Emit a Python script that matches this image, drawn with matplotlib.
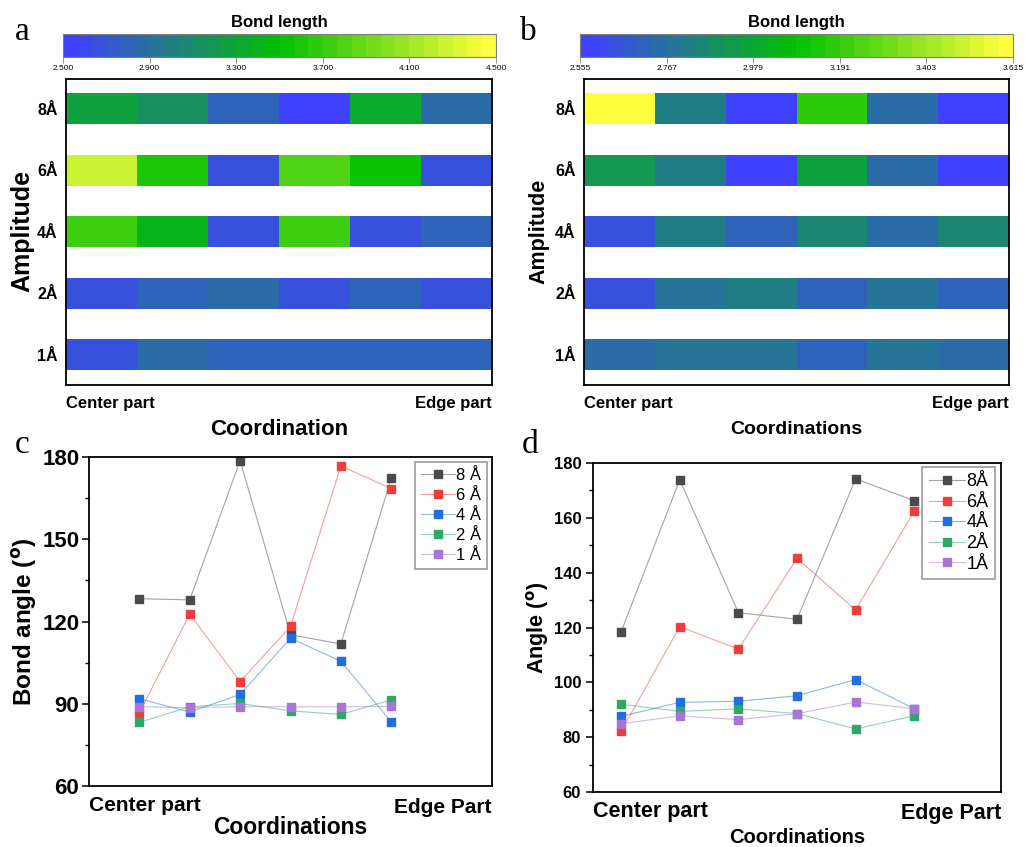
import numpy as np
import matplotlib
matplotlib.use("Agg")
import matplotlib.pyplot as plt
from matplotlib.colors import LinearSegmentedColormap, ListedColormap, Normalize
from matplotlib.cm import ScalarMappable
from matplotlib.ticker import MultipleLocator

plt.rcParams['font.family'] = ['Liberation Sans', 'DejaVu Sans']

# ---------------- data ----------------
amplitudes = ['1Å', '2Å', '4Å', '6Å', '8Å']          # bottom -> top
# panel a bond lengths (rows follow amplitudes order, 6 coordinates center->edge)
bond_a_1 = [2.68, 2.87, 2.78, 2.78, 2.78, 2.78]
bond_a_2 = [2.68, 2.78, 2.87, 2.68, 2.80, 2.68]
bond_a_4 = [3.75, 3.38, 2.68, 3.75, 2.68, 2.78]
bond_a_6 = [4.30, 3.61, 2.65, 3.81, 3.53, 2.65]
bond_a_8 = [3.25, 3.12, 2.78, 2.50, 3.31, 2.84]
# panel b bond lengths
bond_b_1 = [2.745, 2.790, 2.790, 2.703, 2.790, 2.735]
bond_b_2 = [2.635, 2.790, 2.836, 2.703, 2.790, 2.703]
bond_b_4 = [2.635, 2.820, 2.703, 2.862, 2.735, 2.862]
bond_b_6 = [2.937, 2.820, 2.555, 2.968, 2.735, 2.555]
bond_b_8 = [3.615, 2.820, 2.555, 3.186, 2.735, 2.555]

cbar_a_ticks = [2.5, 2.9, 3.3, 3.7, 4.1, 4.5]
cbar_b_ticks = [2.555, 2.767, 2.979, 3.191, 3.403, 3.615]

coord = [1, 2, 3, 4, 5, 6]
# panel c bond angles
c_8 = [128.3, 127.9, 178.7, 115.2, 111.8, 172.3]
c_6 = [86.7, 122.7, 98.1, 118.2, 176.7, 168.5]
c_4 = [91.8, 87.0, 93.4, 113.9, 105.5, 83.4]
c_2 = [83.2, 88.9, 90.1, 87.4, 86.1, 91.4]
c_1 = [88.9, 88.6, 88.9, 88.9, 88.9, 89.0]
# panel d angles
d_8 = [118.4, 173.9, 125.4, 123.0, 174.2, 166.3]
d_6 = [82.1, 120.3, 112.1, 145.2, 126.4, 162.4]
d_4 = [87.6, 92.7, 93.1, 95.1, 101.0, 90.4]
d_2 = [92.0, 89.4, 90.3, 88.6, 83.0, 87.8]
d_1 = [84.9, 87.8, 86.4, 88.6, 92.8, 90.4]

series_colors = ['#4a4a4a', '#f03c3c', '#1f6fe0', '#2ea866', '#a874d8']

# ---------------- colormap ----------------
base = LinearSegmentedColormap.from_list(
    'bgy', [(0.0, (0.25, 0.25, 1.0)), (0.5, (0.0, 0.75, 0.0)), (1.0, (1.0, 1.0, 0.25))])
cmap = ListedColormap(base(np.linspace(0, 1, 30)))

W, H = 1025, 847
fig = plt.figure(figsize=(W / 100, H / 100), dpi=100)


def px_axes(x0, y0, x1, y1):
    return fig.add_axes([x0 / W, 1 - y1 / H, (x1 - x0) / W, (y1 - y0) / H])


def heat_panel(rect, cbrect, rows, ticks, vmin, vmax, xlabel, xlabel_size,
               ylab_x, ylab_size, title_x):
    ax = px_axes(*rect)
    norm = Normalize(vmin=vmin, vmax=vmax)
    xe = np.arange(7)
    for i, row in enumerate(rows):
        ax.pcolormesh(xe, [i - 0.25, i + 0.25], np.array([row]), cmap=cmap, norm=norm)
    ax.set_xlim(0, 6)
    ax.set_ylim(-0.49, 4.48)
    ax.set_xticks([])
    ax.set_yticks(range(len(amplitudes)))
    ax.set_yticklabels(amplitudes, fontsize=11.5, fontweight='bold')
    ax.tick_params(axis='y', length=0, pad=6)
    for s in ax.spines.values():
        s.set_linewidth(1.3)
    ax.text(0, -0.06, 'Center part', transform=ax.transAxes, ha='left', va='center',
            fontsize=12, fontweight='bold')
    ax.text(1, -0.06, 'Edge part', transform=ax.transAxes, ha='right', va='center',
            fontsize=12, fontweight='bold')
    ax.text(0.5, -0.145, xlabel, transform=ax.transAxes, ha='center', va='center',
            fontsize=xlabel_size, fontweight='bold')
    fig.text(ylab_x / W, 1 - 231 / H, 'Amplitude', rotation=90, ha='center', va='center',
             fontsize=ylab_size, fontweight='bold')
    cax = px_axes(*cbrect)
    cb = fig.colorbar(ScalarMappable(norm=norm, cmap=cmap), cax=cax, orientation='horizontal')
    cb.set_ticks(ticks)
    cb.set_ticklabels(['%.3f' % t for t in ticks])
    cb.outline.set_edgecolor('#7f7f7f')
    cb.outline.set_linewidth(0.8)
    cax.tick_params(labelsize=6, length=4, width=0.6, color='#7f7f7f', pad=2)
    cax.minorticks_off()
    fig.text(title_x / W, 1 - 22 / H, 'Bond length', ha='center', va='center',
             fontsize=12, fontweight='bold')
    return ax


heat_panel((66, 79, 492, 385), (63, 34, 496, 57),
           [bond_a_1, bond_a_2, bond_a_4, bond_a_6, bond_a_8], cbar_a_ticks, 2.5, 4.5,
           'Coordination', 16, 22, 18, 279)
heat_panel((584, 79, 1009, 385), (580, 34, 1013, 57),
           [bond_b_1, bond_b_2, bond_b_4, bond_b_6, bond_b_8], cbar_b_ticks, 2.555, 3.615,
           'Coordinations', 14, 539, 15.5, 796)


def line_panel(rect, series, labels, xlim, major, minor, ylabel, tick_size, tick_pad,
               cp_size, cp_y, xl_size, xl_y, yl_size, yl_x, leg_anchor, leg_size, leg_sp):
    ax = px_axes(*rect)
    for vals, col, lab in zip(series, series_colors, labels):
        rgba = matplotlib.colors.to_rgba(col, 0.5)
        ax.plot(coord, vals, color=rgba, lw=0.8, marker='s', markersize=5.5,
                markerfacecolor=col, markeredgecolor=col, label=lab)
    ax.set_xlim(*xlim)
    ax.set_ylim(60, 180)
    ax.set_xticks([])
    ax.yaxis.set_major_locator(MultipleLocator(major))
    ax.yaxis.set_minor_locator(MultipleLocator(minor))
    ax.tick_params(axis='y', which='major', length=5, width=1.1, labelsize=tick_size,
                   pad=tick_pad)
    ax.tick_params(axis='y', which='minor', length=3, width=1.0)
    for lab in ax.get_yticklabels():
        lab.set_fontweight('bold')
    for s in ax.spines.values():
        s.set_linewidth(1.3)
    ax.text(0, cp_y, 'Center part', transform=ax.transAxes, ha='left', va='center',
            fontsize=cp_size, fontweight='bold')
    ax.text(1, cp_y - 0.006, 'Edge Part', transform=ax.transAxes, ha='right', va='center',
            fontsize=cp_size, fontweight='bold')
    ax.text(0.5, xl_y, 'Coordinations', transform=ax.transAxes, ha='center', va='center',
            fontsize=xl_size, fontweight='bold')
    ax.text(yl_x, 0.5, ylabel, transform=ax.transAxes, rotation=90, ha='center',
            va='center', fontsize=yl_size, fontweight='bold')
    leg = ax.legend(loc='upper right', bbox_to_anchor=leg_anchor, fontsize=leg_size,
                    handlelength=2.0, handletextpad=0.1, labelspacing=leg_sp,
                    borderpad=0.35, borderaxespad=0, fancybox=False, framealpha=1,
                    edgecolor='#999999')
    leg.get_frame().set_linewidth(1.2)
    return ax


line_panel((89, 457, 492, 786), [c_8, c_6, c_4, c_2, c_1],
           ['8 Å', '6 Å', '4 Å', '2 Å', '1 Å'], (0.0, 8.0), 30, 15,
           'Bond angle ($\\mathbf{^{o}}$)', 16, 2, 15, -0.06, 16.5, -0.125, 17.5, -0.159,
           (0.988, 0.985), 12, 0.3)
line_panel((593, 463, 1001, 792), [d_8, d_6, d_4, d_2, d_1],
           ['8Å', '6Å', '4Å', '2Å', '1Å'], (0.52, 7.48), 20, 10,
           'Angle ($\\mathbf{^{o}}$)', 12, 3.5, 15.5, -0.06, 14.5, -0.137, 15.5, -0.135,
           (0.985, 0.988), 13, 0.2)

for letter, x, y in [('a', 15, 40), ('b', 520, 40), ('c', 15, 453), ('d', 522, 453)]:
    fig.text(x / W, 1 - y / H, letter, fontsize=24, family='Liberation Serif',
             ha='left', va='baseline')

fig.savefig('out.png', dpi=100)
